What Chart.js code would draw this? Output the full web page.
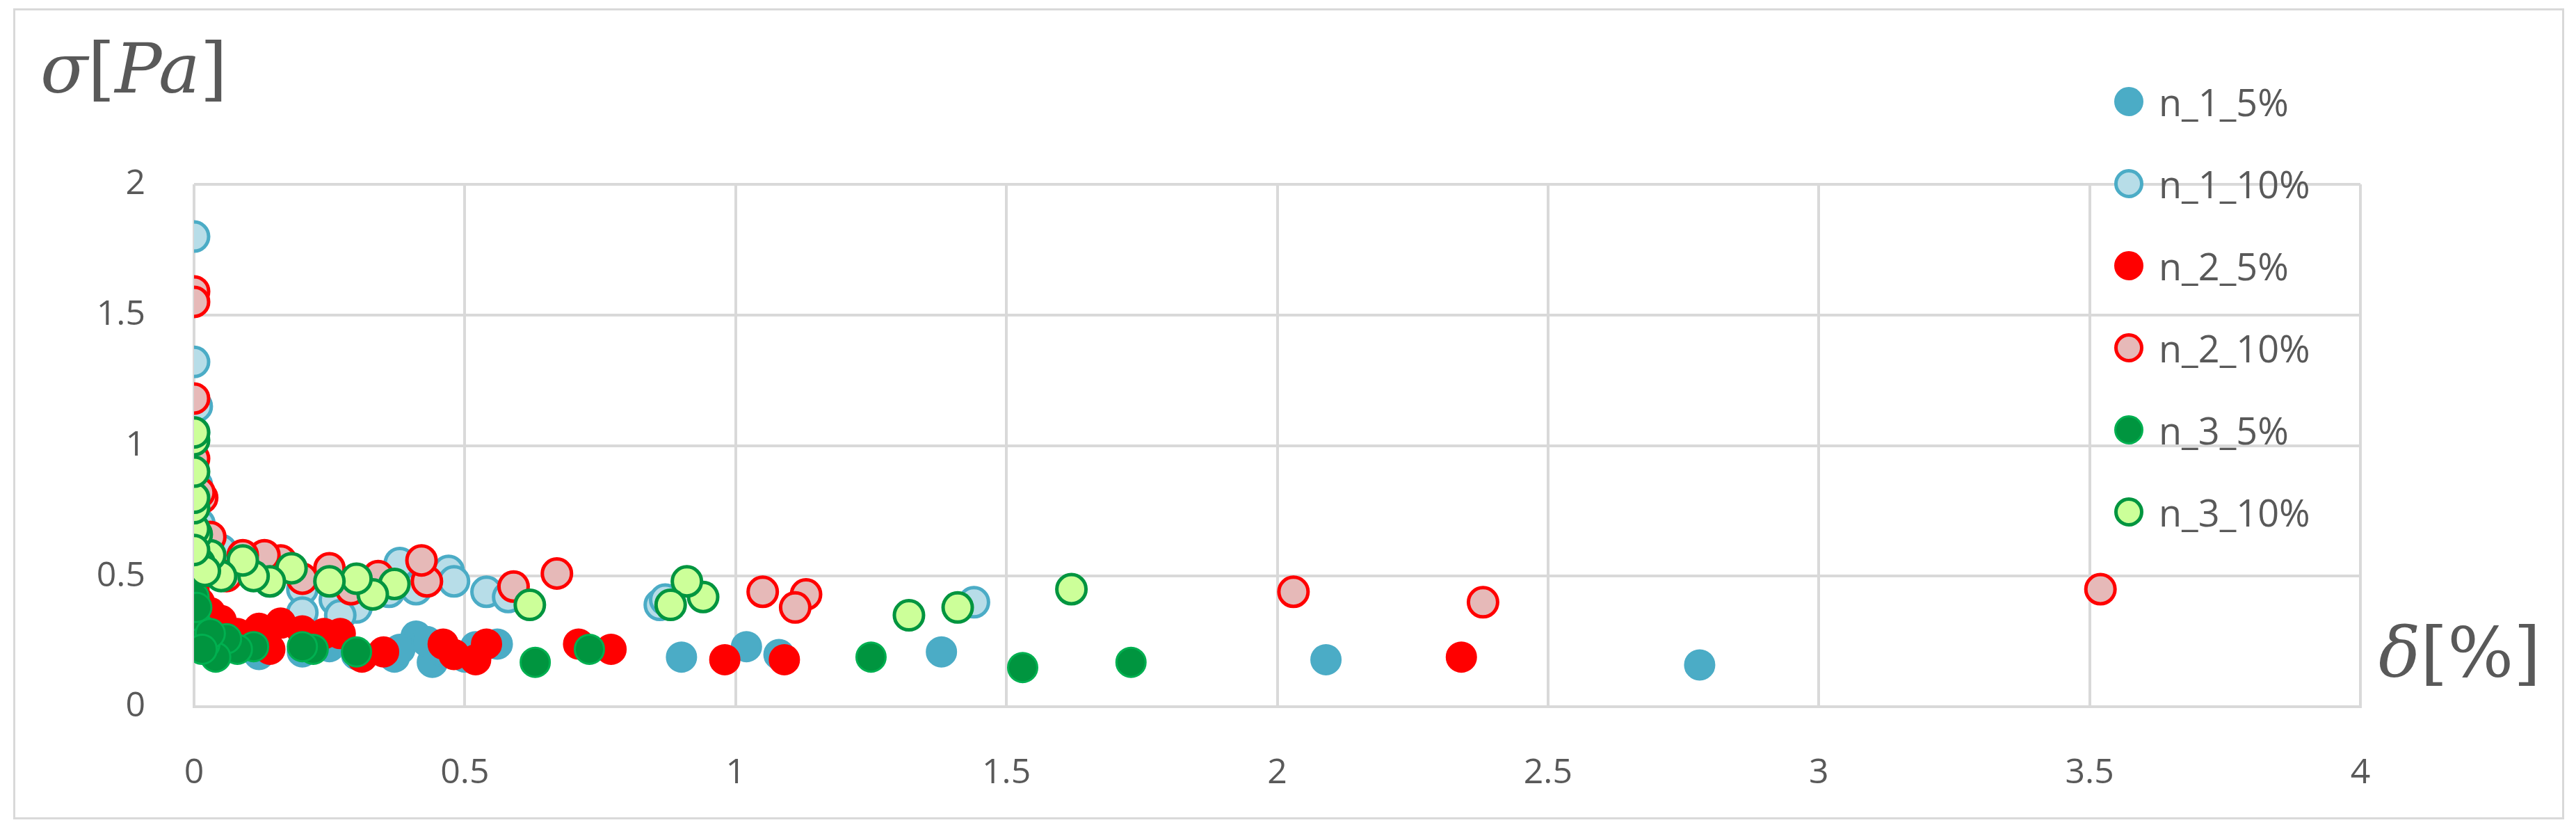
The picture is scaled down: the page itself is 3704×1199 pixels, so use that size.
<!DOCTYPE html>
<html><head><meta charset="utf-8">
<script src="https://cdn.jsdelivr.net/npm/chart.js@4"></script>
<style>
html,body{margin:0;padding:0;background:#fff;}
#wrap{position:relative;width:3704px;height:1199px;}
#frame{position:absolute;left:19px;top:12px;width:3668px;height:1166px;border:3px solid #d9d9d9;box-sizing:border-box;}
.t{position:absolute;font-family:"DejaVu Serif",serif;color:#595959;}
.t i{font-style:italic;}
#legend{position:absolute;left:3040px;top:87px;font-family:"Open Sans",Calibri,sans-serif;font-size:54px;color:#595959;}
.li{display:flex;align-items:center;height:118px;}
.dot{width:42px;height:42px;border-radius:50%;box-sizing:border-box;margin-right:22px;}
</style></head><body>
<div id="wrap">
<div id="frame"></div>
<canvas id="c" width="3704" height="1199"></canvas>
<div class="t" style="left:58px;top:40px;font-size:100px;"><i>σ</i>[<i>Pa</i>]</div>
<div class="t" style="left:3420px;top:880px;font-size:100px;"><i>δ</i>[%]</div>
<div id="legend"></div>
</div>
<script>
const seriesNames=["n_1_5%","n_1_10%","n_2_5%","n_2_10%","n_3_5%","n_3_10%"];
const n1_5=[[2.78,0.16],[2.09,0.18],[1.38,0.21],[1.08,0.20],[1.02,0.23],[0.90,0.19],[0.56,0.24],[0.52,0.23],[0.44,0.17],[0.41,0.27],[0.37,0.19],[0.02,0.25],[0.05,0.22],[0.08,0.24],[0.12,0.20],[0.2,0.21],[0.25,0.23],[0.3,0.20],[0.0,0.3],[0.01,0.35],[0.38,0.22],[0.43,0.25],[0.46,0.21],[0.5,0.19]];
const n1_10=[[0,1.8],[0,1.32],[0.005,1.15],[0,1.05],[0.005,0.85],[0,0.75],[0.01,0.7],[0.02,0.62],[0,0.24],[0.05,0.6],[0.1,0.55],[0.14,0.48],[0.2,0.45],[0.26,0.41],[0.3,0.38],[0.36,0.44],[0.38,0.55],[0.41,0.45],[0.47,0.52],[0.48,0.48],[0.54,0.44],[0.58,0.42],[0.86,0.39],[0.87,0.41],[1.44,0.40],[0.2,0.36],[0.27,0.35]];
const n2_5=[[2.34,0.19],[1.09,0.18],[0.98,0.18],[0.77,0.22],[0.71,0.24],[0.54,0.24],[0.52,0.18],[0.48,0.20],[0.46,0.24],[0.31,0.19],[0.27,0.28],[0.24,0.28],[0.2,0.29],[0.16,0.32],[0.12,0.3],[0.08,0.28],[0.05,0.33],[0.03,0.36],[0.0,0.45],[0.01,0.4],[0.02,0.3],[0.14,0.22],[0.35,0.21]];
const n2_10=[[3.52,0.45],[2.38,0.40],[2.03,0.44],[1.13,0.43],[1.11,0.38],[1.05,0.44],[0.67,0.51],[0.59,0.46],[0.43,0.48],[0.42,0.56],[0.34,0.50],[0.25,0.53],[0.16,0.56],[0.13,0.58],[0.09,0.58],[0.0,1.59],[0.0,1.55],[0.0,1.18],[0.0,0.95],[0.015,0.8],[0.01,0.82],[0.03,0.65],[0.06,0.5],[0.2,0.49],[0.29,0.45]];
const n3_5=[[1.73,0.17],[1.53,0.15],[1.25,0.19],[0.73,0.22],[0.63,0.17],[0.30,0.21],[0.22,0.22],[0.11,0.23],[0.08,0.22],[0.06,0.26],[0.04,0.19],[0.02,0.24],[0.01,0.3],[0.0,0.35],[0.0,0.42],[0.005,0.38],[0.03,0.28],[0.015,0.22],[0.2,0.23]];
const n3_10=[[1.62,0.45],[1.41,0.38],[1.32,0.35],[0.94,0.42],[0.91,0.48],[0.88,0.39],[0.62,0.39],[0.37,0.47],[0.33,0.43],[0.3,0.49],[0.25,0.48],[0.18,0.53],[0.14,0.48],[0.11,0.5],[0.09,0.56],[0.05,0.5],[0.03,0.58],[0.01,0.55],[0.005,0.66],[0.0,0.68],[0.0,0.76],[0.0,0.8],[0.0,0.9],[0.0,1.02],[0.0,1.05],[0.02,0.52],[0.0,0.6]];
const xTicks=[0,0.5,1,1.5,2,2.5,3,3.5,4];
const yTicks=[0,0.5,1,1.5,2];

const allData=[n1_5,n1_10,n2_5,n2_10,n3_5,n3_10];
const fills=["#4bacc6","#b7dde8","#ff0000","#e6b9b8","#00953f","#ccff99"];
const borders=["#4bacc6","#4bacc6","#ff0000","#ff0000","#00b050","#00953f"];
const datasets=allData.map((d,i)=>({label:seriesNames[i],data:d.map(p=>({x:p[0],y:p[1]})),order:5-i,
  backgroundColor:fills[i],borderColor:borders[i],pointRadius:21,pointBorderWidth:i%2?5:3,pointHoverRadius:21}));
const tickFont={family:'"Open Sans",sans-serif',size:50};
new Chart(document.getElementById('c'),{type:'scatter',data:{datasets},
 options:{responsive:false,animation:false,
  layout:{padding:{left:0,right:310,top:265,bottom:0}},
  plugins:{legend:{display:false},tooltip:{enabled:false}},
  scales:{
   x:{type:'linear',min:0,max:4,afterBuildTicks:a=>{a.ticks=xTicks.map(v=>({value:v}));},
      afterFit:a=>{a.height=183;},
      grid:{color:'#d9d9d9',lineWidth:4,drawTicks:false},border:{color:'#d9d9d9',width:4},
      ticks:{padding:66,color:'#595959',font:tickFont,callback:v=>String(v)}},
   y:{type:'linear',min:0,max:2,afterBuildTicks:a=>{a.ticks=yTicks.map(v=>({value:v}));},
      afterFit:a=>{a.width=279;},
      grid:{color:'#d9d9d9',lineWidth:4,drawTicks:false},border:{display:false},
      ticks:{padding:70,color:'#595959',font:tickFont,callback:v=>String(v)}}
  }}});
const lg=document.getElementById('legend');
seriesNames.forEach((n,i)=>{const d=document.createElement('div');d.className='li';
 d.innerHTML='<div class="dot" style="background:'+fills[i]+';border:'+(i%2?5:3)+'px solid '+borders[i]+'"></div>'+n;lg.appendChild(d);});
</script></body></html>
